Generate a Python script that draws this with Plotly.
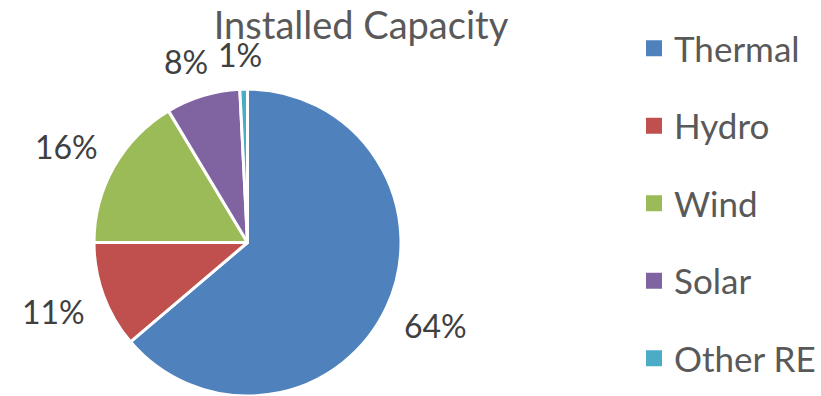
import math
import plotly.graph_objects as go

categories = ["Thermal", "Hydro", "Wind", "Solar", "Other RE"]
values = [63.8, 11.2, 16.4, 7.8, 0.8]
colors = ["#4F81BD", "#C0504D", "#9BBB59", "#8064A2", "#4BACC6"]
title_text = "Installed Capacity"

W, H = 821, 396
FONT = "Lato"
LABEL_SIZE = 32

# pie domain (paper fractions)
dom_x = [94 / W, 401 / W]
dom_y = [0, 307 / H]

fig = go.Figure()
fig.add_trace(go.Pie(
    labels=categories,
    values=values,
    sort=False,
    direction="clockwise",
    rotation=0,
    marker=dict(colors=colors, line=dict(color="white", width=3)),
    textinfo="none",
    showlegend=False,
    domain=dict(x=dom_x, y=dom_y),
    hoverinfo="label+percent",
))

# outside percent labels, placed from the slice angles (computed from values)
cx = (dom_x[0] + dom_x[1]) / 2 * W
cy = H - (dom_y[0] + dom_y[1]) / 2 * H
R = min((dom_x[1] - dom_x[0]) * W, (dom_y[1] - dom_y[0]) * H) / 2
total = sum(values)
cum = 0.0
for v in values:
    frac = v / total
    theta = 2 * math.pi * (cum + frac / 2)
    cum += frac
    txt = f"{round(frac * 100):d}%"
    dx, dy = math.sin(theta), -math.cos(theta)
    hw = 0.33 * LABEL_SIZE * len(txt)
    hh = 0.47 * LABEL_SIZE
    Lr = R + 20
    px = cx + Lr * dx + math.copysign(hw * math.sqrt(abs(dx)), dx)
    py = cy + Lr * dy + math.copysign(hh * math.sqrt(abs(dy)), dy)
    fig.add_annotation(
        x=px / W, y=1 - py / H,
        xref="paper", yref="paper", xanchor="center", yanchor="middle",
        text=txt, showarrow=False,
        font=dict(family=FONT, size=LABEL_SIZE, color="#404040"),
    )

# legend entries for the categories
for cat, col in zip(categories, colors):
    fig.add_trace(go.Scatter(
        x=[None], y=[None], mode="markers", name=cat,
        marker=dict(symbol="square", size=16, color=col),
        legendgroup=cat, showlegend=True, hoverinfo="skip",
    ))

fig.update_layout(
    width=W, height=H,
    margin=dict(l=0, r=0, t=0, b=0),
    paper_bgcolor="white", plot_bgcolor="white",
    title=dict(text=title_text, x=361 / W, xanchor="center",
               y=1 - 26 / H, yanchor="middle",
               font=dict(family=FONT, size=38, color="#595959")),
    xaxis=dict(visible=False), yaxis=dict(visible=False),
    legend=dict(x=634 / W, xanchor="left", y=1 - 19 / H, yanchor="top",
                font=dict(family=FONT, size=35, color="#595959"),
                tracegroupgap=29, itemsizing="trace"),
)

fig.write_html("out.html")
